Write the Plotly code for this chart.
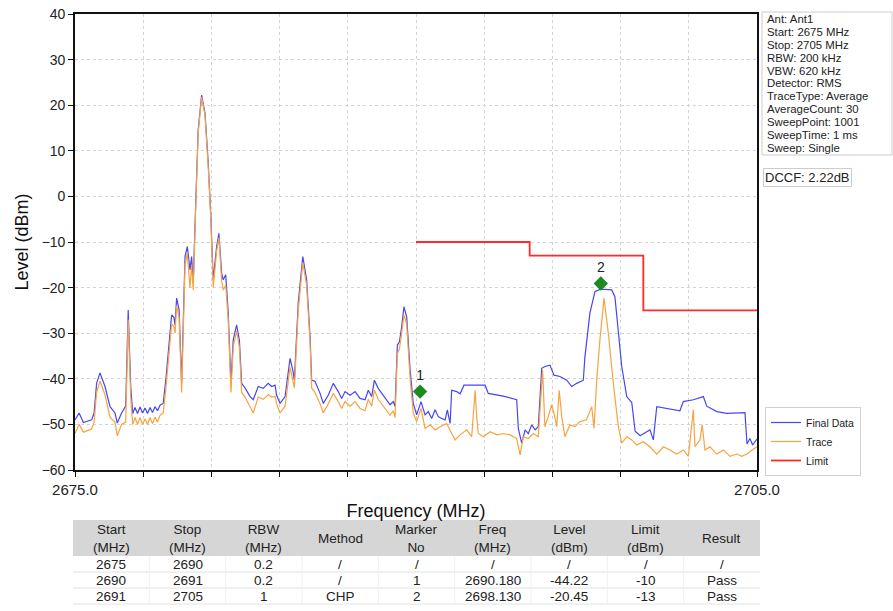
import plotly.graph_objects as go

# ---------------- data ----------------
final_freq = [2675.00, 2675.18, 2675.37, 2675.73, 2675.84, 2675.95, 2676.10, 2676.32, 2676.54, 2676.76,
              2676.86, 2677.05, 2677.23, 2677.34, 2677.45, 2677.54, 2677.64, 2677.75, 2677.86, 2677.97,
              2678.08, 2678.19, 2678.30, 2678.41, 2678.52, 2678.63, 2678.74, 2678.88, 2679.00, 2679.10,
              2679.25, 2679.35, 2679.40, 2679.47, 2679.58, 2679.69, 2679.84, 2679.94, 2680.06, 2680.13,
              2680.20, 2680.32, 2680.42, 2680.57, 2680.72, 2680.86, 2680.97, 2681.08, 2681.23, 2681.33,
              2681.45, 2681.52, 2681.63, 2681.74, 2681.86, 2681.96, 2682.11, 2682.23, 2682.33, 2682.48,
              2682.70, 2682.84, 2683.06, 2683.28, 2683.50, 2683.65, 2683.80, 2683.87, 2684.02, 2684.24,
              2684.46, 2684.58, 2684.65, 2684.82, 2684.97, 2685.02, 2685.19, 2685.34, 2685.41, 2685.56,
              2685.78, 2685.92, 2686.14, 2686.36, 2686.58, 2686.73, 2686.88, 2687.10, 2687.32, 2687.54,
              2687.76, 2687.90, 2688.05, 2688.17, 2688.34, 2688.49, 2688.71, 2688.86, 2689.00, 2689.08,
              2689.18, 2689.27, 2689.37, 2689.47, 2689.59, 2689.74, 2689.88, 2690.03, 2690.22, 2690.40,
              2690.54, 2690.69, 2690.84, 2690.98, 2691.13, 2691.28, 2691.38, 2691.50, 2691.57, 2691.79,
              2691.94, 2692.11, 2693.04, 2693.18, 2693.84, 2694.43, 2694.50, 2694.65, 2694.80, 2694.94,
              2695.09, 2695.24, 2695.38, 2695.53, 2695.67, 2695.89, 2696.07, 2696.33, 2696.63, 2696.85,
              2697.07, 2697.36, 2697.43, 2697.65, 2697.87, 2698.09, 2698.31, 2698.61, 2698.75, 2699.05,
              2699.27, 2699.49, 2699.64, 2699.86, 2700.15, 2700.29, 2700.44, 2700.59, 2701.61, 2701.76,
              2702.20, 2702.64, 2702.79, 2703.23, 2703.67, 2704.47, 2704.56, 2704.69, 2704.81, 2705.00]
final_level = [-49.0, -47.5, -49.6, -49.0, -47.5, -41.0, -38.7, -41.7, -46.1, -47.5,
               -49.7, -47.5, -46.0, -24.9, -41.7, -47.6, -46.3, -47.6, -46.2, -47.5,
               -46.4, -47.6, -46.3, -47.4, -46.1, -47.0, -45.8, -45.4, -40.0, -34.4,
               -26.0, -26.5, -28.2, -22.3, -24.9, -41.0, -13.2, -11.0, -16.1, -13.2,
               -19.0, 0.0, 14.6, 22.2, 18.2, 7.3, -3.7, -18.3, -11.0, -8.1,
               -16.9, -18.3, -17.2, -25.6, -41.0, -31.5, -28.2, -31.5, -41.0, -42.0,
               -43.9, -44.6, -41.7, -42.1, -41.0, -41.7, -41.4, -43.6, -45.4, -43.9,
               -35.5, -38.1, -40.3, -23.4, -16.1, -13.2, -18.3, -30.8, -40.3, -40.6,
               -43.2, -45.4, -43.6, -41.0, -42.8, -44.3, -42.8, -43.6, -42.8, -44.3,
               -44.6, -42.5, -43.9, -40.3, -42.1, -43.2, -44.6, -45.7, -45.0, -46.1,
               -32.6, -31.9, -28.6, -24.2, -26.4, -38.1, -45.4, -47.9, -45.0, -47.9,
               -47.2, -48.7, -46.8, -48.3, -48.7, -49.0, -46.8, -49.8, -42.5, -42.8,
               -43.3, -41.4, -41.4, -43.2, -43.8, -44.6, -50.9, -54.1, -51.2, -52.0,
               -50.1, -51.2, -50.5, -37.7, -37.3, -37.0, -39.2, -39.5, -40.3, -41.7,
               -41.0, -40.3, -35.2, -25.6, -20.9, -20.4, -20.4, -20.5, -22.0, -37.3,
               -43.9, -45.2, -51.5, -52.5, -51.6, -51.2, -53.4, -46.1, -47.0, -45.0,
               -44.6, -43.9, -46.0, -47.2, -47.6, -47.4, -54.3, -53.1, -54.5, -53.2]

trace_freq = [2675.00, 2675.18, 2675.37, 2675.73, 2675.84, 2675.95, 2676.10, 2676.32, 2676.54, 2676.76,
              2676.86, 2677.05, 2677.23, 2677.34, 2677.45, 2677.54, 2677.64, 2677.75, 2677.86, 2677.97,
              2678.08, 2678.19, 2678.30, 2678.41, 2678.52, 2678.63, 2678.74, 2678.88, 2679.00, 2679.10,
              2679.25, 2679.35, 2679.40, 2679.47, 2679.58, 2679.69, 2679.84, 2679.94, 2680.06, 2680.13,
              2680.20, 2680.32, 2680.42, 2680.57, 2680.72, 2680.86, 2680.97, 2681.08, 2681.23, 2681.33,
              2681.45, 2681.52, 2681.63, 2681.74, 2681.86, 2681.96, 2682.11, 2682.23, 2682.33, 2682.48,
              2682.70, 2682.84, 2683.06, 2683.28, 2683.50, 2683.65, 2683.80, 2683.87, 2684.02, 2684.24,
              2684.46, 2684.58, 2684.65, 2684.82, 2684.97, 2685.02, 2685.19, 2685.34, 2685.41, 2685.56,
              2685.78, 2685.92, 2686.14, 2686.36, 2686.58, 2686.73, 2686.88, 2687.10, 2687.32, 2687.54,
              2687.76, 2687.90, 2688.05, 2688.17, 2688.34, 2688.49, 2688.71, 2688.86, 2689.00, 2689.08,
              2689.18, 2689.27, 2689.37, 2689.47, 2689.59, 2689.74, 2689.88, 2690.03, 2690.22, 2690.40,
              2690.62, 2690.84, 2691.06, 2691.35, 2691.57, 2691.72, 2691.94, 2692.23, 2692.45, 2692.60,
              2692.67, 2692.74, 2692.96, 2693.26, 2693.55, 2693.84, 2694.14, 2694.43, 2694.58, 2694.72,
              2694.94, 2695.16, 2695.38, 2695.57, 2695.67, 2695.82, 2695.96, 2696.07, 2696.19, 2696.30,
              2696.41, 2696.55, 2696.77, 2696.99, 2697.21, 2697.50, 2697.73, 2697.83, 2697.95, 2698.09,
              2698.27, 2698.46, 2698.68, 2698.90, 2699.05, 2699.27, 2699.49, 2699.71, 2700.00, 2700.29,
              2700.59, 2700.88, 2701.17, 2701.47, 2701.76, 2701.98, 2702.20, 2702.27, 2702.49, 2702.59,
              2702.71, 2702.93, 2703.23, 2703.52, 2703.81, 2704.11, 2704.33, 2704.56, 2704.78, 2705.00]
trace_level = [-52.0, -50.0, -51.7, -51.0, -49.5, -43.0, -40.5, -43.5, -48.5, -49.5,
               -52.5, -50.0, -49.5, -27.0, -44.0, -50.0, -48.5, -50.0, -48.5, -50.0,
               -48.8, -50.0, -48.5, -49.8, -48.4, -49.5, -48.0, -47.5, -42.0, -36.0,
               -28.0, -28.5, -30.0, -24.0, -26.5, -43.0, -15.0, -12.5, -20.0, -15.0,
               -20.5, -1.0, 14.0, 21.8, 17.8, 6.5, -4.5, -20.0, -12.0, -9.0,
               -18.5, -20.5, -19.5, -27.0, -43.0, -33.0, -29.5, -33.0, -43.0, -44.0,
               -46.0, -47.5, -44.0, -44.5, -43.5, -44.0, -43.8, -45.5, -47.5, -46.0,
               -37.5, -40.0, -42.0, -25.0, -17.0, -14.5, -19.5, -32.0, -42.0, -43.0,
               -45.5, -47.5, -45.5, -43.2, -45.0, -46.5, -45.0, -46.0, -45.0, -46.5,
               -47.0, -44.5, -46.0, -42.5, -44.5, -45.5, -47.0, -48.0, -47.0, -48.5,
               -34.5, -33.5, -30.0, -26.0, -28.0, -40.0, -47.5, -49.4, -46.5, -50.9,
               -50.1, -51.2, -50.5, -49.8, -52.0, -53.4, -52.3, -51.2, -52.7, -42.5,
               -48.3, -52.0, -52.7, -51.6, -52.3, -52.0, -52.3, -53.1, -56.7, -52.7,
               -53.1, -52.0, -52.7, -38.1, -50.5, -48.3, -45.7, -47.6, -50.5, -42.5,
               -48.3, -52.7, -50.1, -50.5, -49.4, -49.0, -46.1, -50.9, -40.3, -31.5,
               -22.3, -30.0, -41.0, -50.5, -54.1, -52.7, -53.4, -54.5, -53.8, -54.9,
               -56.5, -54.9, -55.6, -56.5, -55.6, -57.0, -46.8, -54.9, -53.4, -50.1,
               -55.6, -54.9, -56.5, -55.6, -57.0, -56.5, -57.0, -56.5, -55.6, -54.9]

limit_freq = [2690, 2695, 2700, 2705]
limit_level = [-10, -13, -25, -25]

marker_freq = [2690.18, 2698.13]
marker_level = [-42.8, -19.1]
marker_labels = ["1", "2"]

x_tick_values = [2675, 2678, 2681, 2684, 2687, 2690, 2693, 2696, 2699, 2702, 2705]
x_tick_labels = ["2675.0", "", "", "", "", "", "", "", "", "", "2705.0"]

info_lines = ["Ant: Ant1", "Start: 2675 MHz", "Stop: 2705 MHz", "RBW: 200 kHz", "VBW: 620 kHz",
              "Detector: RMS", "TraceType: Average", "AverageCount: 30", "SweepPoint: 1001",
              "SweepTime: 1 ms", "Sweep: Single"]
dccf_text = "DCCF: 2.22dB"

table_header = ["Start<br>(MHz)", "Stop<br>(MHz)", "RBW<br>(MHz)", "Method", "Marker<br>No",
                "Freq<br>(MHz)", "Level<br>(dBm)", "Limit<br>(dBm)", "Result"]
col_start = ["2675", "2690", "2691"]
col_stop = ["2690", "2691", "2705"]
col_rbw = ["0.2", "0.2", "1"]
col_method = ["/", "/", "CHP"]
col_marker = ["/", "1", "2"]
col_freq = ["/", "2690.180", "2698.130"]
col_level = ["/", "-44.22", "-20.45"]
col_limit = ["/", "-10", "-13"]
col_result = ["/", "Pass", "Pass"]
table_columns = [col_start, col_stop, col_rbw, col_method, col_marker, col_freq,
                 col_level, col_limit, col_result]

# ---------------- figure ----------------
W, H = 893, 611
FONT = "Liberation Sans, Arial, sans-serif"
TFONT = "Liberation Sans Narrow, Arial Narrow, Liberation Sans, Arial, sans-serif"


def px_x(p):
    return p / W


def px_y(p):
    return 1 - p / H


fig = go.Figure()

fig.add_trace(go.Scatter(x=final_freq, y=final_level, mode="lines", name="Final Data",
                         line=dict(color="#4646f5", width=1.2)))
fig.add_trace(go.Scatter(x=trace_freq, y=trace_level, mode="lines", name="Trace",
                         line=dict(color="#f7a340", width=1.2)))
fig.add_trace(go.Scatter(x=limit_freq, y=limit_level, mode="lines", name="Limit",
                         line=dict(color="#ff2a2a", width=1.8, shape="hv")))
fig.add_trace(go.Scatter(x=marker_freq, y=marker_level, mode="markers+text", text=marker_labels,
                         textposition="top center", showlegend=False,
                         textfont=dict(family=FONT, size=14, color="#222"),
                         marker=dict(symbol="diamond", size=11, color="#1d8a1d")))

fig.update_layout(
    width=W, height=H, template="none",
    margin=dict(l=0, r=0, t=0, b=0),
    paper_bgcolor="white", plot_bgcolor="white",
    font=dict(family=FONT, color="#222"),
    xaxis=dict(domain=[px_x(75), px_x(757)], range=[2675, 2705],
               tickvals=x_tick_values, ticktext=x_tick_labels,
               showgrid=True, gridcolor="#d4d4d4", griddash="dot", gridwidth=1,
               showline=True, linecolor="#111", linewidth=1.6, mirror=True,
               ticks="outside", ticklen=5, tickcolor="#111", tickwidth=1.3,
               tickfont=dict(size=15, family=FONT, color="#222"),
               zeroline=False, automargin=False,
               title=dict(text="Frequency (MHz)", font=dict(size=18, family=FONT, color="#111"),
                          standoff=8)),
    yaxis=dict(domain=[px_y(470), px_y(14)], range=[-60, 40], dtick=10,
               showgrid=True, gridcolor="#d4d4d4", griddash="dot", gridwidth=1,
               showline=True, linecolor="#111", linewidth=1.6, mirror=True,
               ticks="outside", ticklen=5, tickcolor="#111", tickwidth=1.3,
               tickfont=dict(size=14, family=FONT, color="#222"),
               zeroline=False, automargin=False,
               title=dict(text="Level (dBm)", font=dict(size=18, family=FONT, color="#111"),
                          standoff=8)),
    legend=dict(x=px_x(765), y=px_y(407), xanchor="left", yanchor="top",
                bordercolor="#d0d0d0", borderwidth=1, bgcolor="white",
                font=dict(size=10.5, family=FONT, color="#222"),
                itemwidth=30, tracegroupgap=0),
    showlegend=True,
)

# info box
fig.add_shape(type="rect", xref="paper", yref="paper",
              x0=px_x(762), x1=px_x(892), y0=px_y(155), y1=px_y(12),
              line=dict(color="#cccccc", width=1), fillcolor="white")
for i, line in enumerate(info_lines):
    fig.add_annotation(xref="paper", yref="paper", x=px_x(765), y=px_y(19 + i * 12.9),
                       xanchor="left", yanchor="middle", showarrow=False, text=line,
                       font=dict(size=11.4, family=FONT, color="#222"))

fig.add_annotation(xref="paper", yref="paper", x=px_x(763), y=px_y(177),
                   xanchor="left", yanchor="middle", showarrow=False, text=dccf_text,
                   bordercolor="#cccccc", borderwidth=1, borderpad=1,
                   font=dict(size=13, family=FONT, color="#222"))

# results table (drawn with shapes + text)
T_X0, T_X1 = 73, 760
HEAD_Y0, HEAD_Y1 = 520, 556
ROW_H = 16
n_cols = len(table_header)
col_w = (T_X1 - T_X0) / n_cols
n_rows = len(col_start)

fig.add_shape(type="rect", xref="paper", yref="paper",
              x0=px_x(T_X0), x1=px_x(T_X1), y0=px_y(HEAD_Y1), y1=px_y(HEAD_Y0),
              line=dict(width=0), fillcolor="#d6d6d6", layer="below")
for r in range(n_rows):
    yb = HEAD_Y1 + (r + 1) * ROW_H
    fig.add_shape(type="line", xref="paper", yref="paper",
                  x0=px_x(T_X0), x1=px_x(T_X1), y0=px_y(yb), y1=px_y(yb),
                  line=dict(color="#e2e2e2", width=1))
for c in range(1, n_cols):
    xv = T_X0 + c * col_w
    fig.add_shape(type="line", xref="paper", yref="paper",
                  x0=px_x(xv), x1=px_x(xv), y0=px_y(HEAD_Y1), y1=px_y(HEAD_Y1 + n_rows * ROW_H),
                  line=dict(color="#f0f0f0", width=1))

for c, head in enumerate(table_header):
    xc = T_X0 + (c + 0.5) * col_w
    fig.add_annotation(xref="paper", yref="paper", x=px_x(xc), y=px_y((HEAD_Y0 + HEAD_Y1) / 2),
                       xanchor="center", yanchor="middle", showarrow=False, text=head,
                       align="center", font=dict(size=13.5, family=TFONT, color="#222"))
    for r in range(n_rows):
        yc = HEAD_Y1 + (r + 0.5) * ROW_H
        fig.add_annotation(xref="paper", yref="paper", x=px_x(xc), y=px_y(yc),
                           xanchor="center", yanchor="middle", showarrow=False,
                           text=table_columns[c][r],
                           font=dict(size=13.5, family=TFONT, color="#222"))

fig.write_html("out.html",
               config={"displayModeBar": False},
               post_script="document.body.style.margin='0';"
                           "document.documentElement.style.overflow='hidden';")
